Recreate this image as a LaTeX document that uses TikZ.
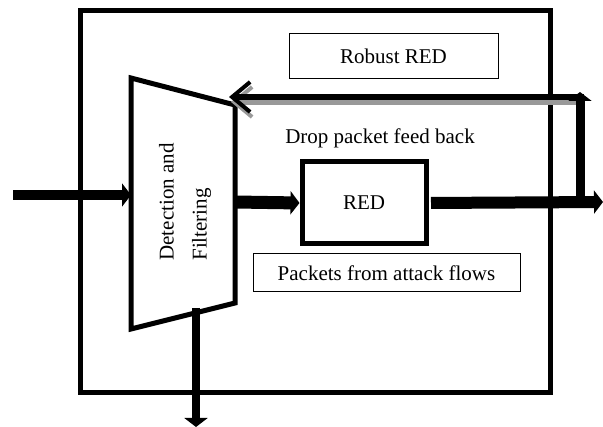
\documentclass[tikz,border=0pt]{standalone}
\usepackage{fontspec}
\setmainfont{Liberation Serif}
\usepackage{tikz}
\usetikzlibrary{arrows.meta,positioning,calc}
\tikzset{>={Triangle[length=9pt,width=23pt]}}
\tikzset{
  thinbox/.style={draw,line width=1pt,inner sep=0pt},
  thickbox/.style={draw,line width=5pt,inner sep=0pt},
}

\begin{document}
\begin{tikzpicture}[x=1pt,y=-1pt,font=\fontsize{21}{33}\selectfont]

\useasboundingbox (0,0) rectangle (603,427);

% outer frame
\node [thickbox,minimum width=470pt,minimum height=382pt] (frame) at (315,202) {};

% detection and filtering block
\coordinate (tl) at (131,78);
\coordinate (tr) at (235,105);
\coordinate (br) at (235,303);
\coordinate (bl) at (131,329);
\draw[line width=5pt] (tl) -- (tr) -- (br) -- (bl) -- cycle;
\node [align=left,rotate=90] (det) at (185,202) {Detection and\\Filtering};

\node [thickbox,minimum width=124pt,minimum height=82pt] (red) at (364,203) {RED};
\node [thinbox,minimum width=209pt,minimum height=45pt] (robust) at (393.5,56.5) {Robust RED};
\node [thinbox,minimum width=267pt,minimum height=38pt] (attack) at (386.5,273) {Packets from attack flows};
\node [align=center] (drop) at (380,138) {Drop packet feed back};

\coordinate (in) at (13,195);
\coordinate (inend) at (131,195);
\coordinate (pass) at (235,202);
\coordinate (out) at (603,202);
\coordinate (tap) at (580,202);
\coordinate (fbr) at (584,97);
\coordinate (fbl) at (229,97);
\coordinate (drophere) at (196,308);
\coordinate (dropout) at (196,427);

\begin{scope}[line cap=butt]
\draw[->,line width=10pt] (in) to (inend);
\draw[->,line width=13pt] (pass) to (red.west);
\draw[->,line width=12pt,shorten <=2.5pt] (red.east) to (out);
\draw[-{Straight Barb[length=18pt,width=30pt,line width=4pt]},line width=6pt,color=black!40,
  transform canvas={xshift=2pt,yshift=-5pt}] ($(fbr)+(-4,0)$) to (fbl);
\draw[-{Straight Barb[length=18pt,width=30pt,line width=4pt]},line width=6pt] (fbr) to (fbl);
\draw[->,line width=9pt] (tap) to ($(fbr)+(-4,-5)$);
\draw[->,line width=8pt] (drophere) to (dropout);
\end{scope}

\end{tikzpicture}
\end{document}
